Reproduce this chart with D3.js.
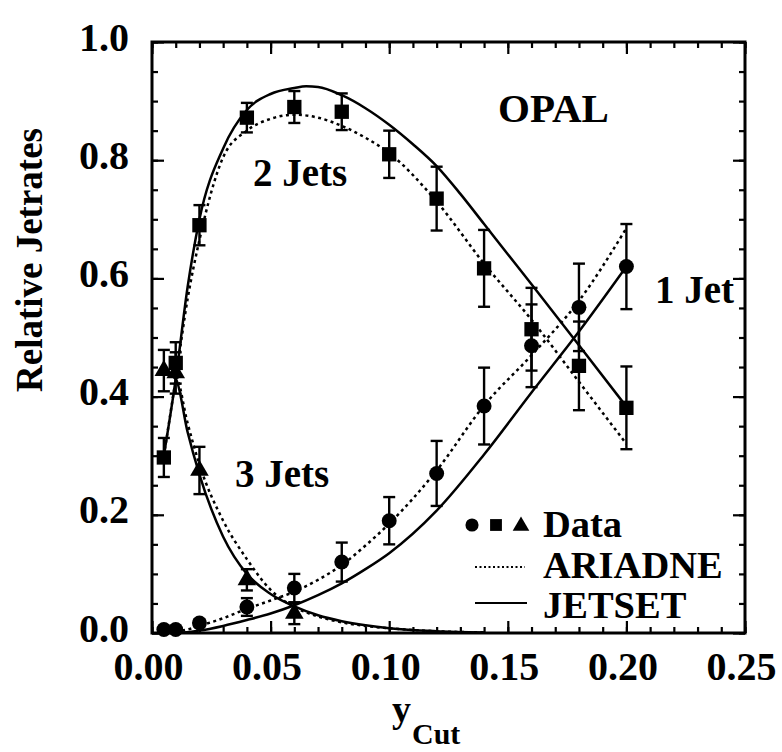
<!DOCTYPE html>
<html><head><meta charset="utf-8">
<script src="https://cdn.jsdelivr.net/npm/d3@7"></script>
<style>body{margin:0;background:#fff}svg{display:block}text{font-family:"Liberation Serif","Times New Roman",serif;font-weight:bold;fill:#000}</style>
</head><body>
<script>
// ---- data ----
const xTicks = [0, 0.05, 0.10, 0.15, 0.20, 0.25];
const xTickLabels = ["0.00", "0.05", "0.10", "0.15", "0.20", "0.25"];
const yTicks = [0, 0.2, 0.4, 0.6, 0.8, 1.0];
const yTickLabels = ["0.0", "0.2", "0.4", "0.6", "0.8", "1.0"];

const yCut = [0.005, 0.01, 0.02, 0.04, 0.06, 0.08, 0.10, 0.12, 0.14, 0.16, 0.18, 0.20];
const jet2 = [0.297, 0.457, 0.69, 0.872, 0.89, 0.882, 0.81, 0.735, 0.617, 0.514, 0.452, 0.381];
const jet2Err = [0.033, 0.035, 0.034, 0.025, 0.027, 0.031, 0.04, 0.054, 0.065, 0.07, 0.075, 0.07];
const jet1 = [0.006, 0.006, 0.017, 0.044, 0.076, 0.12, 0.19, 0.27, 0.384, 0.486, 0.551, 0.62];
const jet1Err = [0.004, 0.004, 0.006, 0.015, 0.024, 0.033, 0.04, 0.055, 0.065, 0.07, 0.074, 0.072];
const yCut3 = [0.005, 0.01, 0.02, 0.04, 0.06];
const jet3 = [0.444, 0.44, 0.275, 0.09, 0.033];
const jet3Err = [0.035, 0.035, 0.04, 0.018, 0.018];

const modelX2 = [0.005, 0.01, 0.015, 0.02, 0.03, 0.04, 0.05, 0.06, 0.065, 0.07, 0.08, 0.09, 0.10, 0.11, 0.12, 0.13, 0.14, 0.15, 0.16, 0.18, 0.20];
const jetset2 = [0.30, 0.43, 0.585, 0.70, 0.82, 0.885, 0.912, 0.922, 0.925, 0.924, 0.91, 0.888, 0.86, 0.827, 0.79, 0.743, 0.692, 0.641, 0.59, 0.487, 0.383];
const modelX = [0.005, 0.01, 0.015, 0.02, 0.03, 0.04, 0.05, 0.06, 0.07, 0.08, 0.09, 0.10, 0.12, 0.14, 0.16, 0.18, 0.20];
const ariadne2 = [0.30, 0.43, 0.565, 0.665, 0.805, 0.85, 0.87, 0.877, 0.872, 0.858, 0.838, 0.812, 0.73, 0.625, 0.53, 0.425, 0.32];
const modelX1 = [0.01, 0.02, 0.03, 0.04, 0.05, 0.06, 0.07, 0.08, 0.09, 0.10, 0.12, 0.14, 0.16, 0.18, 0.20];
const jetset1 = [0.0, 0.004, 0.012, 0.022, 0.033, 0.047, 0.064, 0.084, 0.108, 0.135, 0.207, 0.302, 0.407, 0.51, 0.62];
const modelXa1 = [0.01, 0.015, 0.02, 0.03, 0.04, 0.05, 0.06, 0.07, 0.08, 0.09, 0.10, 0.12, 0.14, 0.16, 0.18, 0.20];
const ariadne1 = [0.002, 0.006, 0.012, 0.025, 0.041, 0.055, 0.07, 0.09, 0.115, 0.148, 0.185, 0.275, 0.385, 0.47, 0.562, 0.685];
const modelX3 = [0.005, 0.01, 0.015, 0.02, 0.03, 0.04, 0.05, 0.06, 0.07, 0.08, 0.09, 0.10, 0.12, 0.14];
const jetset3 = [0.44, 0.43, 0.34, 0.268, 0.163, 0.10, 0.066, 0.045, 0.03, 0.02, 0.013, 0.008, 0.003, 0.001];
const ariadne3 = [0.44, 0.435, 0.355, 0.285, 0.19, 0.125, 0.073, 0.044, 0.028, 0.018, 0.012, 0.008, 0.003, 0.001];

// ---- layout ----
const W = 782, H = 752;
const L = 152, R = 745, T = 42, B = 633;
const svg = d3.select("body").append("svg").attr("width", W).attr("height", H);
const x = d3.scaleLinear().domain([0, 0.25]).range([L, R]);
const y = d3.scaleLinear().domain([0, 1]).range([B, T]);

const minorX = d3.range(0, 0.2501, 0.01);
const minorY = d3.range(0, 1.0001, 0.05);

const g = svg.append("g");
function styleAxis(sel) {
  sel.select(".domain").remove();
  sel.selectAll("line").attr("stroke", "#000").attr("stroke-width", 2.2);
}
g.append("g").attr("transform", `translate(0,${B})`)
  .call(d3.axisBottom(x).tickValues(minorX).tickSize(-6).tickFormat("")).call(styleAxis);
g.append("g").attr("transform", `translate(0,${T})`)
  .call(d3.axisTop(x).tickValues(minorX).tickSize(-6).tickFormat("")).call(styleAxis);
g.append("g").attr("transform", `translate(${L},0)`)
  .call(d3.axisLeft(y).tickValues(minorY).tickSize(-6).tickFormat("")).call(styleAxis);
g.append("g").attr("transform", `translate(${R},0)`)
  .call(d3.axisRight(y).tickValues(minorY).tickSize(-6).tickFormat("")).call(styleAxis);

const xb = g.append("g").attr("transform", `translate(0,${B})`)
  .call(d3.axisBottom(x).tickValues(xTicks).tickSize(-12).tickPadding(19).tickFormat((d, i) => xTickLabels[i]));
styleAxis(xb);
xb.selectAll("text").attr("font-size", 40).attr("dx", -4).attr("font-family", "Liberation Serif").attr("font-weight", "bold");
g.append("g").attr("transform", `translate(0,${T})`)
  .call(d3.axisTop(x).tickValues(xTicks).tickSize(-12).tickFormat("")).call(styleAxis);
const yl = g.append("g").attr("transform", `translate(${L},0)`)
  .call(d3.axisLeft(y).tickValues(yTicks).tickSize(-12).tickPadding(23).tickFormat((d, i) => yTickLabels[i]));
styleAxis(yl);
yl.selectAll("text").attr("font-size", 40).attr("dy", "0.2em").attr("font-family", "Liberation Serif").attr("font-weight", "bold");
g.append("g").attr("transform", `translate(${R},0)`)
  .call(d3.axisRight(y).tickValues(yTicks).tickSize(-12).tickFormat("")).call(styleAxis);

svg.append("rect").attr("x", L).attr("y", T).attr("width", R - L).attr("height", B - T)
  .attr("fill", "none").attr("stroke", "#000").attr("stroke-width", 3);

// model curves
const line = d3.line().x(d => x(d[0])).y(d => y(d[1])).curve(d3.curveMonotoneX);
const curves = [
  [modelX2, jetset2, false], [modelX, ariadne2, true],
  [modelX1, jetset1, false], [modelXa1, ariadne1, true],
  [modelX3, jetset3, false], [modelX3, ariadne3, true]
];
curves.forEach(([xs, ys, dotted]) => {
  svg.append("path").datum(xs.map((v, i) => [v, ys[i]]))
    .attr("d", line).attr("fill", "none").attr("stroke", "#000")
    .attr("stroke-width", 2.5)
    .attr("stroke-dasharray", dotted ? "3,3.5" : null);
});

// data with error bars
function errorBars(xs, ys, es) {
  const eg = svg.append("g").attr("stroke", "#000").attr("stroke-width", 2.4);
  xs.forEach((v, i) => {
    const cx = x(v), y1 = y(ys[i] + es[i]), y0 = y(ys[i] - es[i]);
    eg.append("line").attr("x1", cx).attr("x2", cx).attr("y1", y1).attr("y2", y0);
    eg.append("line").attr("x1", cx - 6).attr("x2", cx + 6).attr("y1", y1).attr("y2", y1);
    eg.append("line").attr("x1", cx - 6).attr("x2", cx + 6).attr("y1", y0).attr("y2", y0);
  });
}
errorBars(yCut, jet2, jet2Err);
errorBars(yCut, jet1, jet1Err);
errorBars(yCut3, jet3, jet3Err);

const sq = d3.symbol().type(d3.symbolSquare).size(205);
const ci = d3.symbol().type(d3.symbolCircle).size(175);
const tr = d3.symbol().type(d3.symbolTriangle).size(150);
function marks(xs, ys, sym) {
  svg.append("g").selectAll("path").data(xs).join("path")
    .attr("transform", (d, i) => `translate(${x(d)},${y(ys[i])})`)
    .attr("d", sym).attr("fill", "#000");
}
marks(yCut, jet2, sq);
marks(yCut, jet1, ci);
marks(yCut3, jet3, tr);

// annotations
const txt = (s, px, py, size, anchor) => svg.append("text").attr("x", px).attr("y", py)
  .attr("font-size", size).attr("text-anchor", anchor || "start").text(s);
txt("OPAL", 498, 122, 41);
txt("2 Jets", 253, 186, 39);
txt("3 Jets", 235, 487, 39);
txt("1 Jet", 655, 303, 39);

// legend
svg.append("path").attr("transform", "translate(472,525)").attr("d", d3.symbol().type(d3.symbolCircle).size(135)).attr("fill", "#000");
svg.append("path").attr("transform", "translate(496,525)").attr("d", d3.symbol().type(d3.symbolSquare).size(140)).attr("fill", "#000");
svg.append("path").attr("transform", "translate(521,526)").attr("d", d3.symbol().type(d3.symbolTriangle).size(120)).attr("fill", "#000");
svg.append("line").attr("x1", 475).attr("x2", 525).attr("y1", 567).attr("y2", 567)
  .attr("stroke", "#000").attr("stroke-width", 2).attr("stroke-dasharray", "2,2.5");
svg.append("line").attr("x1", 475).attr("x2", 527).attr("y1", 603).attr("y2", 603)
  .attr("stroke", "#000").attr("stroke-width", 2);
txt("Data", 543, 537, 38.5);
txt("ARIADNE", 543, 578, 38.5);
txt("JETSET", 543, 618, 38.5);

// axis titles
svg.append("text").attr("transform", "translate(42,260) rotate(-90)")
  .attr("text-anchor", "middle").attr("font-size", 37).text("Relative Jetrates");
svg.append("text").attr("x", 392).attr("y", 722).attr("font-size", 38).text("y");
svg.append("text").attr("x", 412).attr("y", 744).attr("font-size", 30).text("Cut");
</script>
</body></html>
